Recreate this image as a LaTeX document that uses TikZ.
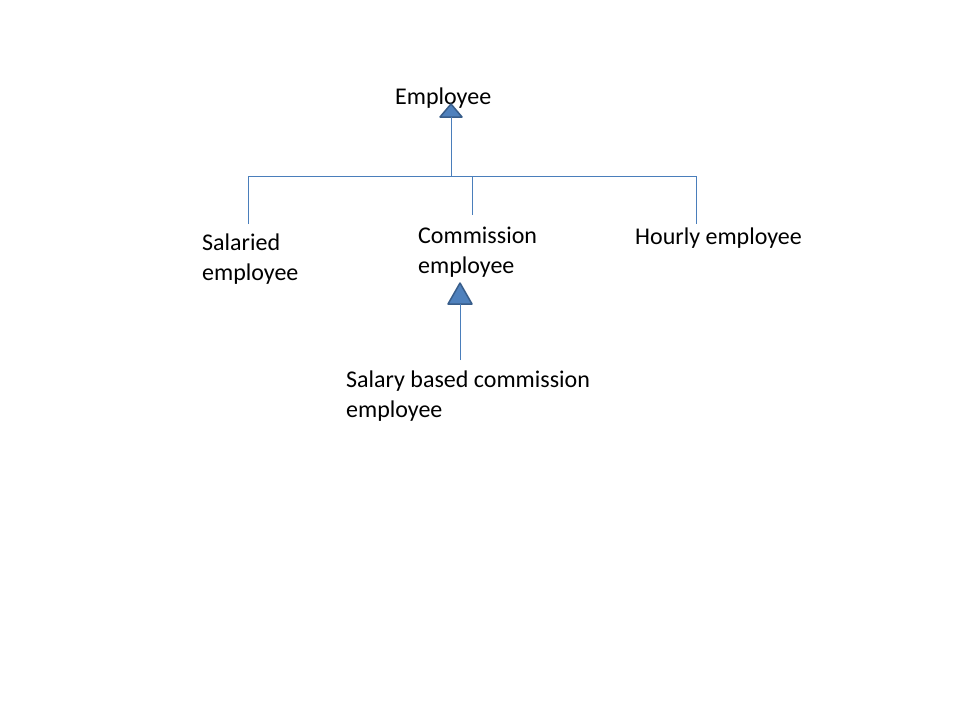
\documentclass[tikz,border=0pt]{standalone}
\usepackage{fontspec}
\setmainfont{Carlito}
\definecolor{linkblue}{HTML}{4A7EBB}
\definecolor{trifill}{HTML}{4F81BD}
\definecolor{triedge}{HTML}{385D8A}
\begin{document}
\begin{tikzpicture}[x=1pt,y=-1pt,
  label/.style={anchor=base west,inner sep=0pt,align=left,
    font=\fontsize{24}{29.3}\selectfont},
  link/.style={draw=linkblue,line width=1pt},
  arrowtri/.style={fill=trifill,draw=triedge,line width=1.5pt,line join=round}]
\useasboundingbox (0,0) rectangle (960,720);

% class names (base anchor sits on the last line of each label)
\node[label] (emp) at (395,104) {Employee};
\node[label] (sal) at (202,280) {Salaried\\employee};
\node[label] (com) at (418,273) {Commission\\employee};
\node[label] (hou) at (635,244) {Hourly employee};
\node[label] (sbc) at (346,417) {Salary based commission\\employee};

% generalisation triangles
\coordinate (t1) at (451,117);
\coordinate (t2) at (460,304);
\filldraw[arrowtri] (t1) ++(-11,0) -- ++(11,-13) -- ++(11,13) -- cycle;
\filldraw[arrowtri] (t2) ++(-12,0) -- ++(12,-21) -- ++(12,21) -- cycle;

% tree connectors
\coordinate (bus) at (449,176);
\coordinate (salTop) at (248,224);
\coordinate (comTop) at (472,215);
\coordinate (houTop) at (696,224);
\coordinate (sbcTop) at (460,360);
\draw[link] (t1) -- (t1 |- bus);
\draw[link] (salTop) |- (houTop |- bus) -- (houTop);
\draw[link] (comTop |- bus) -- (comTop);
\draw[link] (sbcTop) -- (t2);
\end{tikzpicture}
\end{document}
